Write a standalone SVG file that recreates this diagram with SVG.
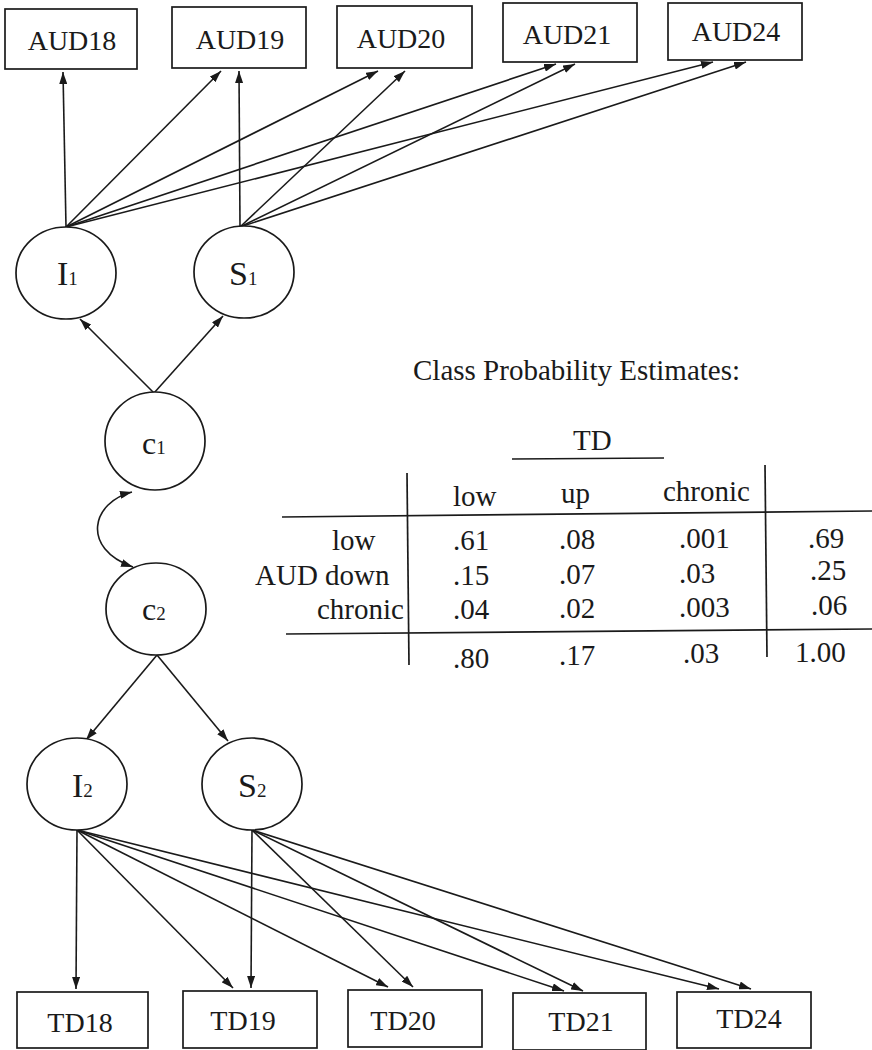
<svg xmlns="http://www.w3.org/2000/svg" width="872" height="1050" viewBox="0 0 872 1050" font-family="'Liberation Serif', 'DejaVu Serif', serif">
<defs>
<marker id="ah" viewBox="0 0 12 8" refX="12" refY="4" markerWidth="12" markerHeight="8" markerUnits="userSpaceOnUse" orient="auto-start-reverse">
<path d="M0,0 L12,4 L0,8 z" fill="#1a1a1a"/>
</marker>
<style>
.box{fill:#fff;stroke:#1a1a1a;stroke-width:1.7}
.node{fill:#fff;stroke:#1a1a1a;stroke-width:1.7}
.lbl{font-size:28px;fill:#1a1a1a;text-anchor:middle}
.nl{font-size:34px;fill:#1a1a1a}
.cl{font-size:32px;fill:#1a1a1a}
.sub{font-size:19px}
.tx{font-size:29px;fill:#1a1a1a}
.edge{stroke:#1a1a1a;stroke-width:1.6;fill:none;marker-end:url(#ah)}
.rule{stroke:#1a1a1a;stroke-width:1.7;fill:none}
</style>
</defs>
<rect width="872" height="1050" fill="#fff"/>

<g id="connectors">
<line class="edge" x1="66" y1="227" x2="63" y2="72"/>
<line class="edge" x1="66" y1="227" x2="221" y2="71"/>
<line class="edge" x1="66" y1="227" x2="378" y2="71"/>
<line class="edge" x1="66" y1="227" x2="556" y2="64"/>
<line class="edge" x1="66" y1="227" x2="713" y2="62"/>
<line class="edge" x1="240" y1="227" x2="239" y2="71"/>
<line class="edge" x1="240" y1="227" x2="405" y2="71"/>
<line class="edge" x1="240" y1="227" x2="575" y2="64"/>
<line class="edge" x1="240" y1="227" x2="746" y2="62"/>
<line class="edge" x1="154" y1="393" x2="80" y2="319"/>
<line class="edge" x1="154" y1="393" x2="223" y2="316"/>
<path class="edge" d="M132,492 C92,502 80,548 133,567" style="marker-start:url(#ah)"/>
<line class="edge" x1="157" y1="655" x2="86" y2="740"/>
<line class="edge" x1="157" y1="655" x2="228" y2="741"/>
<line class="edge" x1="77" y1="830" x2="76" y2="989"/>
<line class="edge" x1="77" y1="830" x2="233" y2="988"/>
<line class="edge" x1="77" y1="830" x2="388" y2="987"/>
<line class="edge" x1="77" y1="830" x2="564" y2="991"/>
<line class="edge" x1="77" y1="830" x2="719" y2="989"/>
<line class="edge" x1="252" y1="830" x2="251" y2="988"/>
<line class="edge" x1="252" y1="830" x2="413" y2="987"/>
<line class="edge" x1="252" y1="830" x2="583" y2="991"/>
<line class="edge" x1="252" y1="830" x2="751" y2="989"/>
</g>

<g id="AUD18"><rect class="box" x="5" y="9" width="132" height="60"/><text class="lbl" x="72" y="50">AUD18</text></g>
<g id="AUD19"><rect class="box" x="172" y="7" width="134" height="61"/><text class="lbl" x="240" y="49">AUD19</text></g>
<g id="AUD20"><rect class="box" x="337" y="6" width="135" height="62"/><text class="lbl" x="401" y="48">AUD20</text></g>
<g id="AUD21"><rect class="box" x="503" y="3" width="134" height="59"/><text class="lbl" x="567" y="44">AUD21</text></g>
<g id="AUD24"><rect class="box" x="668" y="3" width="134" height="57"/><text class="lbl" x="736" y="41">AUD24</text></g>

<g id="I1"><ellipse class="node" cx="66" cy="273" rx="50" ry="46"/><text class="nl" x="57" y="285">I<tspan class="sub">1</tspan></text></g>
<g id="S1"><ellipse class="node" cx="244" cy="272" rx="50" ry="46"/><text class="nl" x="229" y="285">S<tspan class="sub">1</tspan></text></g>
<g id="c1"><ellipse class="node" cx="155" cy="441" rx="50" ry="49"/><text class="cl" x="142" y="454">c<tspan class="sub">1</tspan></text></g>
<g id="c2"><ellipse class="node" cx="156" cy="609" rx="50" ry="46"/><text class="cl" x="142" y="620">c<tspan class="sub">2</tspan></text></g>
<g id="I2"><ellipse class="node" cx="77" cy="784" rx="50" ry="46"/><text class="nl" x="72" y="797">I<tspan class="sub">2</tspan></text></g>
<g id="S2"><ellipse class="node" cx="252" cy="784" rx="50" ry="46"/><text class="nl" x="238" y="797">S<tspan class="sub">2</tspan></text></g>

<g id="TD18"><rect class="box" x="17" y="992" width="131" height="56"/><text class="lbl" x="80" y="1032">TD18</text></g>
<g id="TD19"><rect class="box" x="183" y="991" width="134" height="57"/><text class="lbl" x="243" y="1030">TD19</text></g>
<g id="TD20"><rect class="box" x="348" y="990" width="134" height="57"/><text class="lbl" x="403" y="1030">TD20</text></g>
<g id="TD21"><rect class="box" x="513" y="993" width="133" height="57"/><text class="lbl" x="581" y="1031">TD21</text></g>
<g id="TD24"><rect class="box" x="677" y="992" width="134" height="56"/><text class="lbl" x="749" y="1028">TD24</text></g>

<g id="table">
<text class="tx" x="413" y="380">Class Probability Estimates:</text>
<text class="tx" x="573" y="450">TD</text>
<line class="rule" x1="512" y1="459" x2="664" y2="458"/>
<line class="rule" x1="407" y1="473" x2="409" y2="665"/>
<line class="rule" x1="765" y1="465" x2="767" y2="657"/>
<line class="rule" x1="282" y1="517" x2="872" y2="511"/>
<line class="rule" x1="286" y1="634" x2="872" y2="629"/>
<text class="tx" x="453" y="506">low</text>
<text class="tx" x="561" y="503">up</text>
<text class="tx" x="663" y="501">chronic</text>
<text class="tx" x="332" y="550">low</text>
<text class="tx" x="255" y="585">AUD down</text>
<text class="tx" x="317" y="619">chronic</text>
<text class="tx" x="453" y="550">.61</text>
<text class="tx" x="453" y="585">.15</text>
<text class="tx" x="453" y="619">.04</text>
<text class="tx" x="453" y="668">.80</text>
<text class="tx" x="559" y="549">.08</text>
<text class="tx" x="559" y="584">.07</text>
<text class="tx" x="559" y="618">.02</text>
<text class="tx" x="559" y="665">.17</text>
<text class="tx" x="679" y="548">.001</text>
<text class="tx" x="679" y="583">.03</text>
<text class="tx" x="679" y="617">.003</text>
<text class="tx" x="683" y="663">.03</text>
<text class="tx" x="808" y="548">.69</text>
<text class="tx" x="810" y="580">.25</text>
<text class="tx" x="811" y="615">.06</text>
<text class="tx" x="795" y="662">1.00</text>
</g>
</svg>
